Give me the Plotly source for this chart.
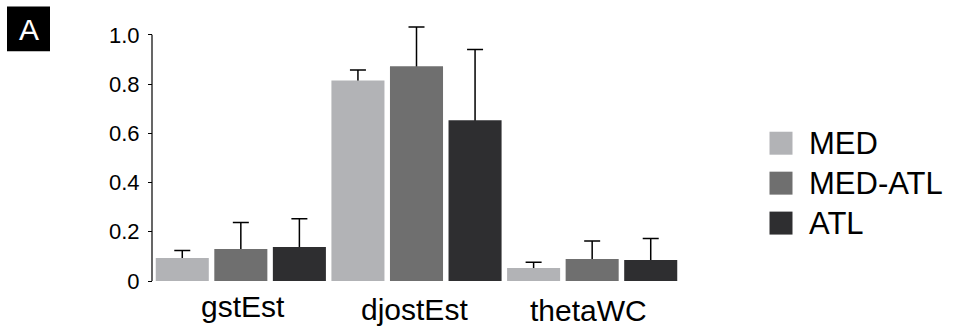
import plotly.graph_objects as go

categories = ["gstEst", "djostEst", "thetaWC"]
series_names = ["MED", "MED-ATL", "ATL"]
med_vals = [0.093, 0.815, 0.053]
med_err = [0.031, 0.042, 0.023]
medatl_vals = [0.130, 0.872, 0.089]
medatl_err = [0.108, 0.160, 0.074]
atl_vals = [0.138, 0.653, 0.085]
atl_err = [0.115, 0.287, 0.088]
tick_vals = [0, 0.2, 0.4, 0.6, 0.8, 1.0]
tick_text = ["0", "0.2", "0.4", "0.6", "0.8", "1.0"]

colors = ["#b2b3b6", "#6f6f6f", "#2e2e30"]
values = [med_vals, medatl_vals, atl_vals]
errors = [med_err, medatl_err, atl_err]

W, H = 956, 326
L, R_EDGE, T, B_EDGE = 153, 680, 24.6, 281
PW, PH = R_EDGE - L, B_EDGE - T
FONT = "Liberation Sans, Arial, Helvetica, sans-serif"


def px(x):
    return (x - L) / PW


def py(y):
    return (B_EDGE - y) / PH


fig = go.Figure()
# error-bar carrier traces first (drawn underneath the visible bars)
for name, vals, errs in zip(series_names, values, errors):
    fig.add_trace(go.Bar(
        x=categories, y=vals, offsetgroup=name, showlegend=False,
        marker=dict(color="rgba(0,0,0,0)", line=dict(width=0)),
        error_y=dict(type="data", symmetric=False, array=errs,
                     arrayminus=[v / 2 for v in vals],
                     color="black", thickness=1.5, width=8),
        hoverinfo="skip"))
for name, vals, col in zip(series_names, values, colors):
    fig.add_trace(go.Bar(
        x=categories, y=vals, name=name, offsetgroup=name, showlegend=False,
        marker=dict(color=col, line=dict(width=0))))

shapes = []
annotations = []
# y axis line from 0 to 1.0
shapes.append(dict(type="line", xref="paper", yref="y", x0=px(152), x1=px(152),
                   y0=0, y1=1.0, line=dict(color="black", width=1.2)))
# panel label box
shapes.append(dict(type="rect", xref="paper", yref="paper", x0=px(7), x1=px(50),
                   y0=py(51), y1=py(6), fillcolor="black", line=dict(width=0)))
annotations.append(dict(text="A", xref="paper", yref="paper", x=px(28.5), y=py(29),
                        xanchor="center", yanchor="middle", showarrow=False,
                        font=dict(family=FONT, size=30, color="white")))
# manual legend
leg_y = [143, 183, 223]
for name, col, yc in zip(series_names, colors, leg_y):
    shapes.append(dict(type="rect", xref="paper", yref="paper",
                       x0=px(769.5), x1=px(792.5), y0=py(yc + 11.5), y1=py(yc - 11.5),
                       fillcolor=col, line=dict(width=0)))
    annotations.append(dict(text=name, xref="paper", yref="paper", x=px(807), y=py(yc),
                            xanchor="left", yanchor="middle", showarrow=False,
                            font=dict(family=FONT, size=31, color="black")))
# category labels (staggered as in the reference)
label_y = [307, 309.5, 311]
label_dx = [2.5, -2.5, -4]
for cat, yc, dx in zip(categories, label_y, label_dx):
    annotations.append(dict(text=cat, xref="x", yref="paper", x=cat, y=py(yc),
                            xshift=dx, xanchor="center", yanchor="middle",
                            showarrow=False,
                            font=dict(family=FONT, size=30, color="black")))

fig.update_layout(
    width=W, height=H,
    margin=dict(l=L, r=W - R_EDGE, t=T, b=H - B_EDGE, pad=0),
    paper_bgcolor="white", plot_bgcolor="white",
    barmode="group", bargap=0, bargroupgap=0.094,
    showlegend=False,
    shapes=shapes, annotations=annotations,
    font=dict(family=FONT, color="black"),
    xaxis=dict(range=[-0.5, 2.5], showticklabels=False, showline=False,
               showgrid=False, zeroline=False, ticks=""),
    yaxis=dict(range=[0, 1.04], tickvals=tick_vals, ticktext=tick_text,
               ticks="outside", ticklen=4, tickwidth=1, tickcolor="black",
               showline=False, showgrid=False, zeroline=False,
               tickfont=dict(family=FONT, size=22, color="black"),
               ticklabelstandoff=4),
)

fig.write_html("out.html", config={"displayModeBar": False},
               post_script="document.body.style.margin='0';document.body.style.overflow='hidden';")
